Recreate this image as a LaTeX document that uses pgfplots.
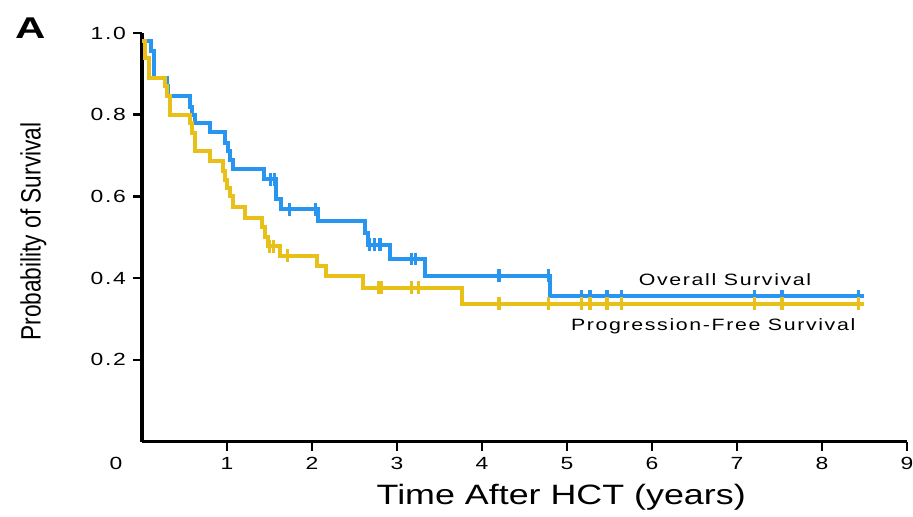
\documentclass[border=0pt]{standalone}
\usepackage{fontspec}
\setmainfont{Liberation Sans}
\newfontfamily\widefont[FakeStretch=1.3,LetterSpace=10]{Liberation Sans}
\newfontfamily\labfont[FakeStretch=1.28]{Liberation Sans}
\newfontfamily\condfont[FakeStretch=0.81]{Liberation Sans}
\newfontfamily\afont[FakeStretch=1.4]{Liberation Sans Bold}
\usepackage{pgfplots}
\pgfplotsset{compat=1.18}

\definecolor{osblue}{RGB}{40,150,240}
\definecolor{pfsyellow}{RGB}{232,192,24}

% step curves: value held from each point to the next
\pgfplotstableread{
t s
0 0.98
0.11 0.955
0.14 0.89
0.29 0.87
0.31 0.846
0.56 0.82
0.59 0.80
0.62 0.779
0.80 0.757
0.98 0.73
1.01 0.71
1.04 0.69
1.07 0.666
1.43 0.642
1.58 0.593
1.64 0.568
2.07 0.541
2.62 0.51
2.66 0.482
2.92 0.447
3.33 0.406
4.80 0.355
8.50 0.355
}\ostable

\pgfplotstableread{
t s
1.51 0.642
1.56 0.642
1.74 0.568
2.04 0.568
2.68 0.482
2.74 0.482
2.80 0.482
3.17 0.447
3.22 0.447
4.20 0.406
4.78 0.406
5.17 0.355
5.27 0.355
5.47 0.355
5.64 0.355
7.21 0.355
7.53 0.355
8.43 0.355
}\oscens

\pgfplotstableread{
t s
0 0.98
0.04 0.94
0.08 0.89
0.27 0.87
0.30 0.845
0.33 0.80
0.56 0.78
0.59 0.755
0.62 0.71
0.80 0.687
0.95 0.662
0.98 0.64
1.00 0.62
1.03 0.60
1.07 0.573
1.21 0.548
1.41 0.525
1.45 0.50
1.48 0.478
1.62 0.455
2.06 0.429
2.17 0.404
2.60 0.377
3.77 0.337
8.50 0.337
}\pfstable

\pgfplotstableread{
t s
1.50 0.478
1.55 0.478
1.71 0.455
2.78 0.377
2.82 0.377
3.17 0.377
3.25 0.377
4.20 0.337
4.78 0.337
5.17 0.337
5.27 0.337
5.47 0.337
5.64 0.337
7.21 0.337
7.53 0.337
8.43 0.337
}\pfscens

\begin{document}
\begin{tikzpicture}
\path[use as bounding box] (-71pt,-37.25pt) rectangle (385.5pt,220.75pt);
\begin{axis}[
  width=382.5pt, height=204.25pt,
  scale only axis,
  xmin=0, xmax=9,
  ymin=0, ymax=1,
  axis lines=left,
  axis line style={-, line width=1.6pt},
  tick align=outside,
  major tick length=4.5pt,
  tick style={line width=1.3pt, black},
  xtick={1,2,3,4,5,6,7,8,9},
  xticklabels={1,2,3,4,5,6,7,8,9},
  extra x ticks={0},
  extra x tick labels={0},
  extra x tick style={tick style={draw=none}, xticklabel style={xshift=-13pt}},
  ytick={0.2,0.4,0.6,0.8,1.0},
  yticklabels={0.2,0.4,0.6,0.8,1.0},
  ticklabel style={font=\widefont\fontsize{8.8}{10}\selectfont},
  xlabel={Time After HCT (years)},
  xlabel style={font=\labfont\fontsize{14}{16}\selectfont, at={(axis description cs:0.548,-0.136)}, anchor=center},
  ylabel={Probability of Survival},
  ylabel style={font=\condfont\fontsize{14}{16}\selectfont, at={(axis description cs:-0.142,0.514)}, anchor=center},
  clip=false,
]
\addplot[const plot, osblue, line width=2pt] table[x=t,y=s] {\ostable};
\addplot[only marks, mark=|, mark size=3.2pt, osblue, mark options={line width=1.6pt}] table[x=t,y=s] {\oscens};
\addplot[const plot, pfsyellow, line width=2pt] table[x=t,y=s] {\pfstable};
\addplot[only marks, mark=|, mark size=3.2pt, pfsyellow, mark options={line width=1.6pt}] table[x=t,y=s] {\pfscens};

\node[font=\widefont\fontsize{8.2}{10}\selectfont] at (axis cs:6.86,0.396) {Overall Survival};
\node[font=\widefont\fontsize{8.2}{10}\selectfont] at (axis cs:6.72,0.283) {Progression-Free Survival};
\node[font=\afont\fontsize{15}{17}\selectfont] at (axis description cs:-0.146,1.012) {A};
\end{axis}
\end{tikzpicture}
\end{document}
